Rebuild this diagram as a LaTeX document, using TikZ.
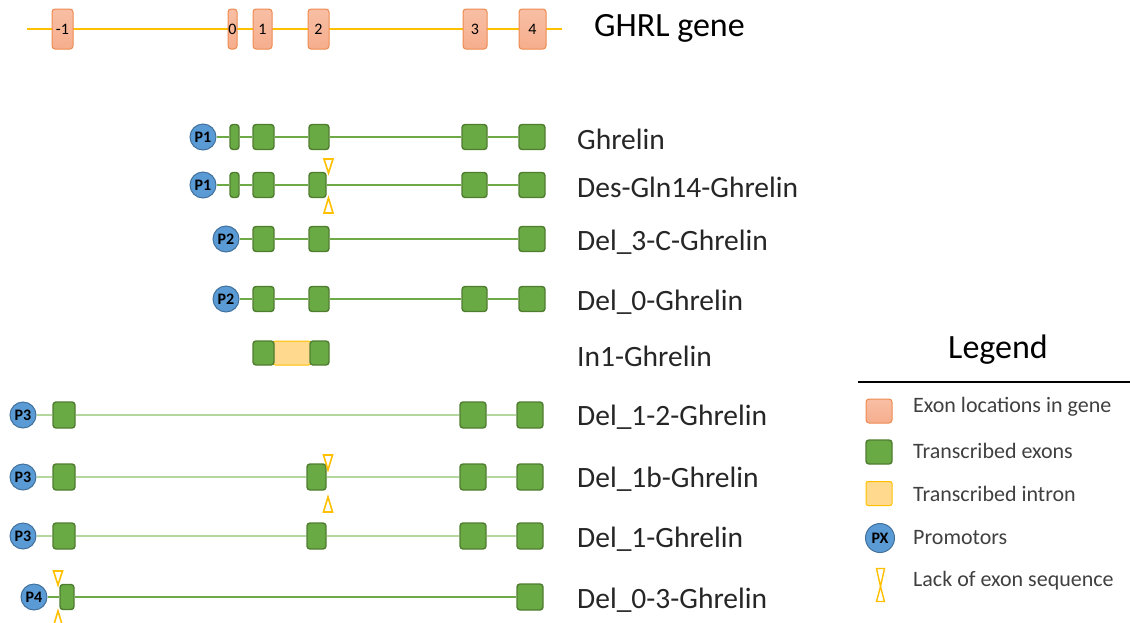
\documentclass[tikz,border=0pt]{standalone}
\usepackage{fontspec}
\setmainfont{Carlito}
\usetikzlibrary{backgrounds}
\definecolor{locfill}{HTML}{F6AE8D}
\definecolor{locdraw}{HTML}{EE8A4E}
\definecolor{goldc}{HTML}{FFC000}
\definecolor{exfill}{HTML}{6AAA45}
\definecolor{exdraw}{HTML}{4F7D30}
\definecolor{lnc}{HTML}{6FAA48}
\definecolor{lightln}{HTML}{B4D79E}
\definecolor{promfill}{HTML}{5B9BD5}
\definecolor{promdraw}{HTML}{41719C}
\definecolor{intfill}{HTML}{FFD98E}
\definecolor{txtc}{HTML}{262626}
\definecolor{legc}{HTML}{404040}
\tikzset{
  loc/.style={rectangle, rounded corners=3pt, draw=locdraw, line width=1pt, top color=locfill!80!white, bottom color=locfill, inner sep=0pt, minimum height=40pt, font=\fontsize{16}{16}\selectfont},
  ex/.style={rectangle, rounded corners=3pt, draw=exdraw, line width=1.4pt, fill=exfill, inner sep=0pt, minimum height=25pt},
  intr/.style={rectangle, rounded corners=2pt, draw=goldc, line width=1pt, fill=intfill, inner sep=0pt, minimum height=24pt},
  prom/.style={circle, draw=promdraw, line width=1pt, fill=promfill, inner sep=0pt, minimum size=26pt, font=\fontsize{16}{16}\selectfont\bfseries},
  gline/.style={draw=goldc, line width=2pt},
  eline/.style={draw=lnc, line width=1.3pt},
  lline/.style={draw=lightln, line width=2pt},
  lbl/.style={anchor=west, text=txtc, inner sep=0pt, font=\fontsize{29.5}{31}\selectfont},
  legtxt/.style={anchor=west, text=legc, inner sep=0pt, font=\fontsize{22}{23}\selectfont},
  tri/.style={draw=goldc, line width=1.6pt, fill=white, line join=miter}
}
\newcommand\lackdown[3]{\path[tri] (#1-4.5,#2) -- (#1+4.5,#2) -- (#1,#3) -- cycle;}
\newcommand\lackup[3]{\path[tri] (#1-4.5,#3) -- (#1+4.5,#3) -- (#1,#2) -- cycle;}
\begin{document}
\begin{tikzpicture}[x=1pt,y=-1pt]
\useasboundingbox (0,0) rectangle (1130,622);
% ---------- gene ----------
\coordinate (gs) at (27,29);
\coordinate (ge) at (562,29);
\node[loc, minimum width=21pt] (gm1) at (62.5,29) {-1};
\node[loc, minimum width=9pt] (g0) at (232.5,29) {0};
\node[loc, minimum width=19pt] (g1) at (262.5,29) {1};
\node[loc, minimum width=21pt] (g2) at (318.5,29) {2};
\node[loc, minimum width=24pt] (g3) at (475,29) {3};
\node[loc, minimum width=27pt] (g4) at (532.5,29) {4};
\begin{scope}[on background layer]
\draw[gline] (gs) -- (ge);
\end{scope}
\node[anchor=west, inner sep=0pt, text=black, font=\fontsize{34}{35}\selectfont] (title) at (594,28) {GHRL gene};
% ---------- Ghrelin ----------
\node[prom] (ap) at (203,137) {P1};
\node[ex, minimum width=9pt] (a0) at (234.5,137) {};
\node[ex, minimum width=21pt] (a1) at (263.5,137) {};
\node[ex, minimum width=20pt] (a2) at (319,137) {};
\node[ex, minimum width=25pt] (a3) at (474.5,137) {};
\node[ex, minimum width=26pt] (a4) at (532,137) {};
\draw[eline] (ap) -- (a0) -- (a1) -- (a2) -- (a3) -- (a4);
\node[lbl] (la) at (577,139) {Ghrelin};
% ---------- Des-Gln14 ----------
\node[prom] (bp) at (203,185) {P1};
\node[ex, minimum width=9pt] (b0) at (234.5,185) {};
\node[ex, minimum width=21pt] (b1) at (263.5,185) {};
\node[ex, minimum width=17pt] (b2) at (317.5,185) {};
\node[ex, minimum width=25pt] (b3) at (474.5,185) {};
\node[ex, minimum width=26pt] (b4) at (532,185) {};
\draw[eline] (bp) -- (b0) -- (b1) -- (b2) -- (b3) -- (b4);
\lackdown{328.5}{159}{173}
\lackup{328.5}{198}{213}
\node[lbl] (lb) at (577,187) {Des-Gln14-Ghrelin};
% ---------- Del_3-C ----------
\node[prom] (cp) at (226,239) {P2};
\node[ex, minimum width=21pt] (c1) at (263.5,239) {};
\node[ex, minimum width=20pt] (c2) at (319,239) {};
\node[ex, minimum width=26pt] (c4) at (532,239) {};
\draw[eline] (cp) -- (c1) -- (c2) -- (c4);
\node[lbl] (lc) at (577,242) {Del\_3-C-Ghrelin};
% ---------- Del_0 ----------
\node[prom] (dp) at (226,299) {P2};
\node[ex, minimum width=21pt] (d1) at (263.5,299) {};
\node[ex, minimum width=20pt] (d2) at (319,299) {};
\node[ex, minimum width=25pt] (d3) at (474.5,299) {};
\node[ex, minimum width=26pt] (d4) at (532,299) {};
\draw[eline] (dp) -- (d1) -- (d2) -- (d3) -- (d4);
\node[lbl] (ld) at (577,302) {Del\_0-Ghrelin};
% ---------- In1 ----------
\node[intr, minimum width=37pt] (ei) at (292,353) {};
\node[ex, minimum width=21pt, minimum height=24pt] (e1) at (263.5,353) {};
\node[ex, minimum width=19pt, minimum height=24pt] (e2) at (319.5,353) {};
\node[lbl] (le) at (577,356) {In1-Ghrelin};
% ---------- Del_1-2 ----------
\node[prom] (fp) at (23,415) {P3};
\node[ex, minimum width=22pt, minimum height=26pt] (f1) at (64,415) {};
\node[ex, minimum width=26pt, minimum height=26pt] (f3) at (473,415) {};
\node[ex, minimum width=26pt, minimum height=26pt] (f4) at (530,415) {};
\draw[lline] (fp) -- (f1) -- (f3) -- (f4);
\node[lbl] (lf) at (577,417) {Del\_1-2-Ghrelin};
% ---------- Del_1b ----------
\node[prom] (hp) at (23,477) {P3};
\node[ex, minimum width=22pt, minimum height=26pt] (h1) at (64,477) {};
\node[ex, minimum width=19pt, minimum height=26pt] (h2) at (316.5,477) {};
\node[ex, minimum width=26pt, minimum height=26pt] (h3) at (473,477) {};
\node[ex, minimum width=26pt, minimum height=26pt] (h4) at (530,477) {};
\draw[lline] (hp) -- (h1) -- (h2) -- (h3) -- (h4);
\lackdown{328}{455}{470}
\lackup{328}{497}{512}
\node[lbl] (lh) at (577,479) {Del\_1b-Ghrelin};
% ---------- Del_1 ----------
\node[prom] (ip) at (23,536) {P3};
\node[ex, minimum width=22pt, minimum height=26pt] (i1) at (64,536) {};
\node[ex, minimum width=19pt, minimum height=26pt] (i2) at (316.5,536) {};
\node[ex, minimum width=26pt, minimum height=26pt] (i3) at (473,536) {};
\node[ex, minimum width=26pt, minimum height=26pt] (i4) at (530,536) {};
\draw[lline] (ip) -- (i1) -- (i2) -- (i3) -- (i4);
\node[lbl] (li) at (577,539) {Del\_1-Ghrelin};
% ---------- Del_0-3 ----------
\node[prom] (jp) at (34,597) {P4};
\node[ex, minimum width=14pt, minimum height=25pt] (j1) at (67,597) {};
\node[ex, minimum width=26pt, minimum height=26pt] (j4) at (530,597) {};
\draw[eline] (jp) -- (j1) -- (j4);
\lackdown{58}{571}{585}
\lackup{58}{611}{626}
\node[lbl] (lj) at (577,600) {Del\_0-3-Ghrelin};
% ---------- Legend ----------
\node[inner sep=0pt, text=black, font=\fontsize{34}{35}\selectfont] (legt) at (998,350) {Legend};
\coordinate (lgs) at (858,382);
\coordinate (lge) at (1130,382);
\draw[line width=2pt, black] (lgs) -- (lge);
\node[loc, minimum width=26pt, minimum height=24pt] (k1) at (879,411) {};
\node[legtxt] (t1) at (913,407) {Exon locations in gene};
\node[ex, minimum width=26pt, minimum height=24pt] (k2) at (879,452) {};
\node[legtxt] (t2) at (913,451) {Transcribed exons};
\node[intr, minimum width=26pt, minimum height=24pt] (k3) at (879,493.5) {};
\node[legtxt] (t3) at (913,494) {Transcribed intron};
\node[prom, minimum size=29pt] (k4) at (880,538) {PX};
\node[legtxt] (t4) at (913,538) {Promotors};
\path[tri, line width=1.4pt] (876.5,568.5) -- (884.5,568.5) -- (880.5,586.5) -- cycle;
\path[tri, line width=1.4pt] (876.5,601.5) -- (884.5,601.5) -- (880.5,586.5) -- cycle;
\node[legtxt] (t5) at (913,581) {Lack of exon sequence};
\end{tikzpicture}
\end{document}
